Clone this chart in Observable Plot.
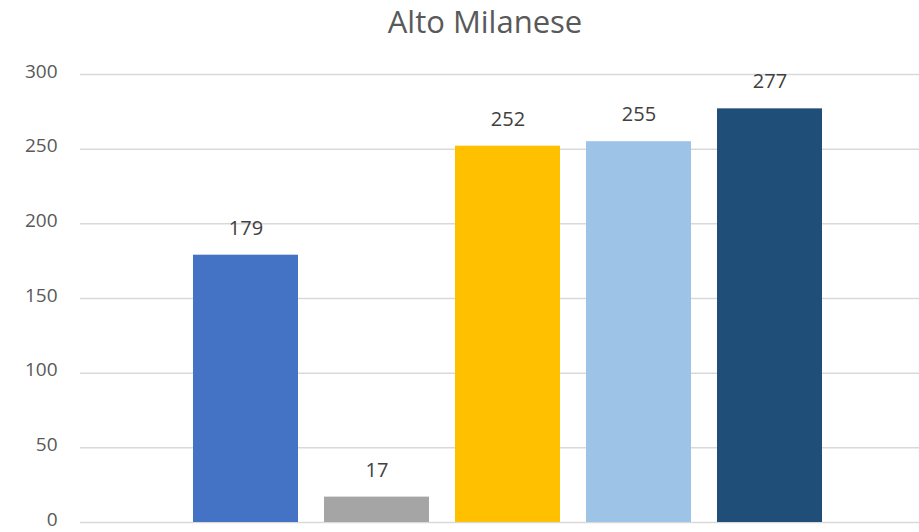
<!DOCTYPE html>
<html>
<head>
<meta charset="utf-8">
<script src="https://cdn.jsdelivr.net/npm/d3@7"></script>
<script src="https://cdn.jsdelivr.net/npm/@observablehq/plot@0.6"></script>
<style>
  body { margin: 0; background: #fff; font-family: "Open Sans", "Liberation Sans", sans-serif; }
  #title { height: 50px; line-height: 43px; font-size: 31px; color: #595959; text-align: center; padding-left: 51px; box-sizing: border-box; width: 919px; white-space: nowrap; }
  svg { overflow: visible; }
</style>
</head>
<body>
<div id="title">Alto Milanese</div>
<div id="chart"></div>
<script>
const series = ["Serie 1", "Serie 2", "Serie 3", "Serie 4", "Serie 5"];
const values = [179, 17, 252, 255, 277];
const colors = ["#4472C4", "#A5A5A5", "#FFC000", "#9DC3E6", "#1F4E79"];
const yTicks = [0, 50, 100, 150, 200, 250, 300];

const data = series.map((s, i) => ({series: s, value: values[i]}));

const chart = Plot.plot({
  width: 919,
  height: 482,
  marginTop: 24,
  marginBottom: 10,
  marginLeft: 80,
  marginRight: 0,
  style: {fontFamily: "'Open Sans', 'Liberation Sans', sans-serif", fontSize: "19px", color: "#595959", background: "#fff"},
  x: {domain: series, range: [80, 935], paddingInner: 0.2, paddingOuter: 0.857, axis: null},
  y: {domain: [0, 300], ticks: yTicks, label: null},
  color: {domain: series, range: colors},
  marks: [
    Plot.ruleY(yTicks, {stroke: "#d9d9d9", strokeWidth: 1.5}),
    Plot.axisY({ticks: yTicks, tickSize: 0, tickPadding: 23, label: null, fontSize: 19, fill: "#595959", dy: -3}),
    Plot.barY(data, {x: "series", y: "value", fill: "series"}),
    Plot.text(data, {x: "series", y: "value", text: d => String(d.value), dy: -27, fontSize: 20, fill: "#404040"})
  ]
});
document.getElementById("chart").appendChild(chart);
</script>
</body>
</html>
